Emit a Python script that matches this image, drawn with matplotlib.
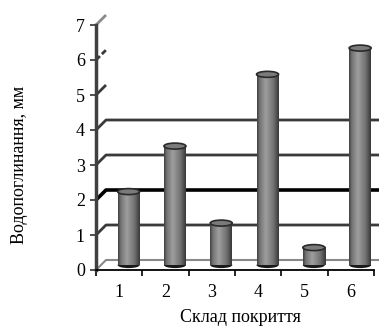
import numpy as np
import matplotlib
matplotlib.use("Agg")
import matplotlib.pyplot as plt
from matplotlib.patches import Ellipse

# дані
categories = ["1", "2", "3", "4", "5", "6"]
values = [2.1, 3.4, 1.2, 5.45, 0.5, 6.2]
y_ticks = [0, 1, 2, 3, 4, 5, 6, 7]

plt.rcParams['font.family'] = ['Liberation Serif', 'DejaVu Serif']

W, H = 379, 326
fig = plt.figure(figsize=(W / 100, H / 100), dpi=100)

# область осей: 0 -> 270 px, 7 -> 25 px, ліва межа 96 px
cat_px = 46.3
ax = fig.add_axes([96 / W, (H - 270) / H, (W - 96) / W, 245 / H])
xmax = 0.5 + (W - 96) / cat_px
dx = 10 / cat_px      # зсув задньої стінки
dy = 10 / 35.0

# сітка на задній стінці
grid_style = {0: ('#8a8a8a', 1.5, '-'), 1: ('#3a3a3a', 2.0, '-'), 2: ('#000000', 2.6, '-'),
              3: ('#3a3a3a', 2.0, '-'), 4: ('#3a3a3a', 2.0, '-'),
              5: ('#3a3a3a', 2.0, '-'), 6: ('#3a3a3a', 2.0, (0, (2, 1))), 7: ('#8a8a8a', 2.0, '-')}
for k in y_ticks:
    col, lw, ls = grid_style[k]
    if k <= 4:
        xs = [0.5, 0.5 + dx, xmax]
        ys = [k, k + dy, k + dy]
    else:
        xs = [0.5, 0.5 + dx]
        ys = [k, k + dy]
    ax.plot(xs, ys, color=col, lw=lw, ls=ls, clip_on=False, zorder=1,
            solid_capstyle='butt')

# циліндри
grad = np.interp(np.linspace(0, 1, 60), [0, 0.12, 0.4, 0.75, 1.0],
                 [0.25, 0.45, 0.62, 0.45, 0.22])[None, :]
bw = 22 / cat_px
base = 0.14
eh = 6 / 35.0
for i, v in enumerate(values):
    xc = i + 1 + dx * 0.95
    top = v + base
    ax.imshow(grad, extent=[xc - bw / 2, xc + bw / 2, base, top], aspect='auto',
              cmap='gray', vmin=0, vmax=1, zorder=3, interpolation='bilinear')
    ax.add_patch(Ellipse((xc, base), bw, eh, facecolor='#1a1a1a', edgecolor='none', zorder=2.9))
    ax.add_patch(Ellipse((xc, top), bw, eh, facecolor='#7a7a7a', edgecolor='#2a2a2a',
                         lw=1.2, zorder=4))

ax.set_xlim(0.5, xmax)
ax.set_ylim(0, 7)

for s in ['top', 'right']:
    ax.spines[s].set_visible(False)
ax.spines['left'].set_color('#404040')
ax.spines['left'].set_linewidth(2.5)
ax.spines['bottom'].set_bounds(0.5, 6.5)
ax.spines['bottom'].set_linewidth(1.3)

ax.set_yticks(y_ticks)
ax.tick_params(axis='y', length=4, width=1.3, color='#404040', labelsize=13, pad=4)
ax.set_xticks(np.arange(0.5, 7, 1))
ax.set_xticklabels([])
ax.set_xticks(np.arange(1, 7), minor=True)
ax.set_xticklabels(categories, minor=True)
ax.tick_params(axis='x', which='major', length=4, width=1.2, direction='out')
ax.tick_params(axis='x', which='minor', length=0, labelsize=13, pad=10)

ax.set_xlabel("Склад покриття", fontsize=13, va='center')
ax.xaxis.set_label_coords(0.509, -0.192)
ax.set_ylabel("Водопоглинання, мм", fontsize=13, va='center')
ax.yaxis.set_label_coords(-0.27, 0.43)
ax.patch.set_visible(False)

fig.savefig("out.png", dpi=100)
